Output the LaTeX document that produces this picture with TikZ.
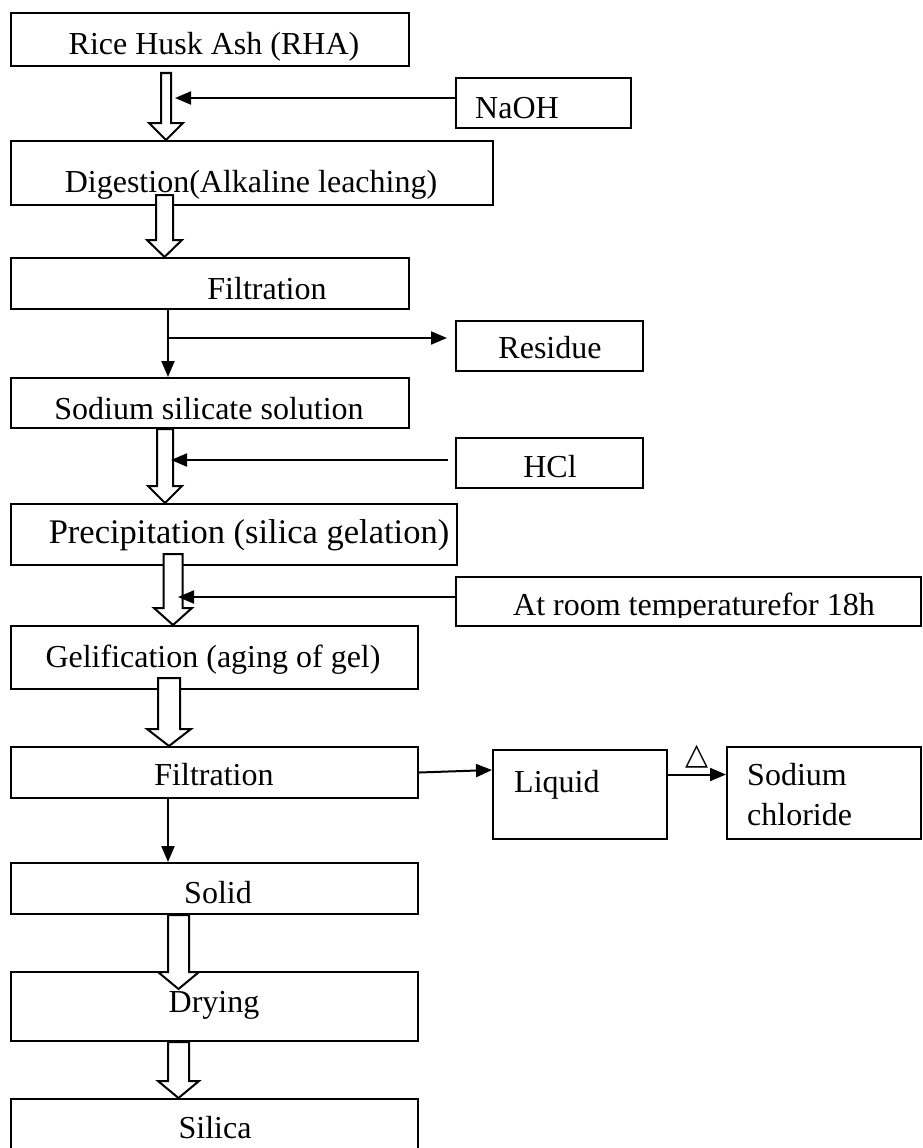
\documentclass[tikz,border=0pt]{standalone}
\usepackage{fontspec}
\setmainfont{Liberation Serif}
\newfontfamily\heatfont{DejaVu Sans}
\usetikzlibrary{arrows.meta,calc}

% hollow block arrow: from, to, axis x, half shaft, half head, start shift, tip shift
\newcommand{\hollowarrow}[7]{%
  \path[hollow] let \p1=(#1.south), \p2=(#2.north) in
    ({#3pt-#4pt},{\y1-(#6pt)}) -- ({#3pt+#4pt},{\y1-(#6pt)})
    -- ({#3pt+#4pt},{\y2-(#7pt)+17pt}) -- ({#3pt+#5pt},{\y2-(#7pt)+17pt})
    -- ({#3pt},{\y2-(#7pt)})
    -- ({#3pt-#5pt},{\y2-(#7pt)+17pt}) -- ({#3pt-#4pt},{\y2-(#7pt)+17pt}) -- cycle;}

\begin{document}
\begin{tikzpicture}[%
        x=1pt, y=-1pt,
        box/.style={draw, line width=2pt, rectangle, inner sep=0pt},
        lbl/.style={anchor=base, inner sep=0pt, font=\fontsize{32}{40}\selectfont},
        flow/.style={line width=2pt, -{Triangle[length=16pt,width=13pt]}},
        hollow/.style={draw, line width=2pt, fill=white, line join=miter}
      ]
  \useasboundingbox (0,0) rectangle (923,1148);

  % boxes
  \node[box, minimum width=398pt, minimum height=53pt] (rha) at (210,39.5) {};
  \node[box, minimum width=175pt, minimum height=50pt] (naoh) at (543.5,103) {};
  \node[box, minimum width=482pt, minimum height=64pt] (dig) at (252,173) {};
  \node[box, minimum width=398pt, minimum height=51pt] (filt1) at (210,283.5) {};
  \node[box, minimum width=187pt, minimum height=50pt] (res) at (549.5,346) {};
  \node[box, minimum width=398pt, minimum height=50pt] (sil) at (210,403) {};
  \node[box, minimum width=187pt, minimum height=50pt] (hcl) at (549.5,463) {};
  \node[box, minimum width=446pt, minimum height=61pt] (prec) at (234,534.5) {};
  \node[box, minimum width=465pt, minimum height=49pt] (room) at (688.5,601.5) {};
  \node[box, minimum width=407pt, minimum height=63pt] (gel) at (214.5,657.5) {};
  \node[box, minimum width=407pt, minimum height=51pt] (filt2) at (214.5,772.5) {};
  \node[box, minimum width=174pt, minimum height=89pt] (liq) at (580,794.5) {};
  \node[box, minimum width=194pt, minimum height=92pt] (nacl) at (824,793) {};
  \node[box, minimum width=407pt, minimum height=51pt] (solid) at (214.5,888.5) {};
  \node[box, minimum width=407pt, minimum height=69pt] (dry) at (214.5,1006.5) {};
  \node[box, minimum width=407pt, minimum height=61pt] (silica) at (214.5,1129.5) {};

  % block arrows
  \hollowarrow{rha}{dig}{166}{5}{17}{6}{0}
  \hollowarrow{dig}{filt1}{164.5}{8.5}{17.5}{-11}{0}
  \hollowarrow{sil}{prec}{165}{8}{17}{0}{0}
  \hollowarrow{prec}{gel}{173}{9.5}{19}{-12}{0}
  \hollowarrow{gel}{filt2}{169}{11}{22}{-12}{0}
  \hollowarrow{solid}{dry}{178.5}{10.5}{20.5}{0}{18}
  \hollowarrow{dry}{silica}{178.5}{10.5}{20.5}{0}{0}

  % line arrows
  \coordinate (ax) at (168,0);
  \coordinate (sp1) at (168,338);
  \coordinate (jn1) at (175,98);
  \coordinate (jn2) at (171,460);
  \coordinate (jn3) at (178,597);
  \draw[flow] (naoh.west |- jn1) -- (jn1);
  \draw[flow] (filt1.south -| ax) -- (sil.north -| ax);
  \draw[flow, shorten >=8pt] (sp1) -- (res.west |- sp1);
  \draw[flow, shorten <=7pt] (hcl.west |- jn2) -- (jn2);
  \draw[flow] (room.west |- jn3) -- (jn3);
  \draw[flow] (filt2.east) -- ([yshift=24.5pt]liq.west);
  \draw[flow] ([yshift=20pt]liq.east) -- ([yshift=20pt]liq.east -| nacl.west)
    node[midway, above=5pt, inner sep=0pt, font=\heatfont\fontsize{30}{30}\selectfont] (heat) {△};
  \draw[flow] (filt2.south -| ax) -- (solid.north -| ax);

  % texts
  \node[lbl] (t-rha) at (214,55) {Rice Husk Ash (RHA)};
  \node[lbl] (t-naoh) at (517,118) {NaOH};
  \node[lbl] (t-dig) at (251,192) {Digestion(Alkaline leaching)};
  \node[lbl] (t-filt1) at (267,299) {Filtration};
  \node[lbl] (t-res) at (550,358) {Residue};
  \node[lbl] (t-sil) at (209,419) {Sodium silicate solution};
  \node[lbl] (t-hcl) at (550,477) {HCl};
  \node[lbl, font=\fontsize{34.5}{40}\selectfont] (t-prec) at (249,543) {Precipitation (silica gelation)};
  \begin{scope}
    \clip (room.north west) rectangle ([yshift=10pt]room.south east);
    \node[lbl] (t-room) at (694,615) {At room temperaturefor 18h};
  \end{scope}
  \node[lbl] (t-gel) at (213,667) {Gelification (aging of gel)};
  \node[lbl] (t-filt2) at (214,785) {Filtration};
  \node[lbl, anchor=base west] (t-liq) at (514,792) {Liquid};
  \node[lbl, anchor=base west, align=left] (t-nacl) at (747,825) {Sodium\\chloride};
  \node[lbl] (t-solid) at (218,903) {Solid};
  \node[lbl] (t-dry) at (214,1012) {Drying};
  \node[lbl] (t-silica) at (215,1138) {Silica};
\end{tikzpicture}
\end{document}
